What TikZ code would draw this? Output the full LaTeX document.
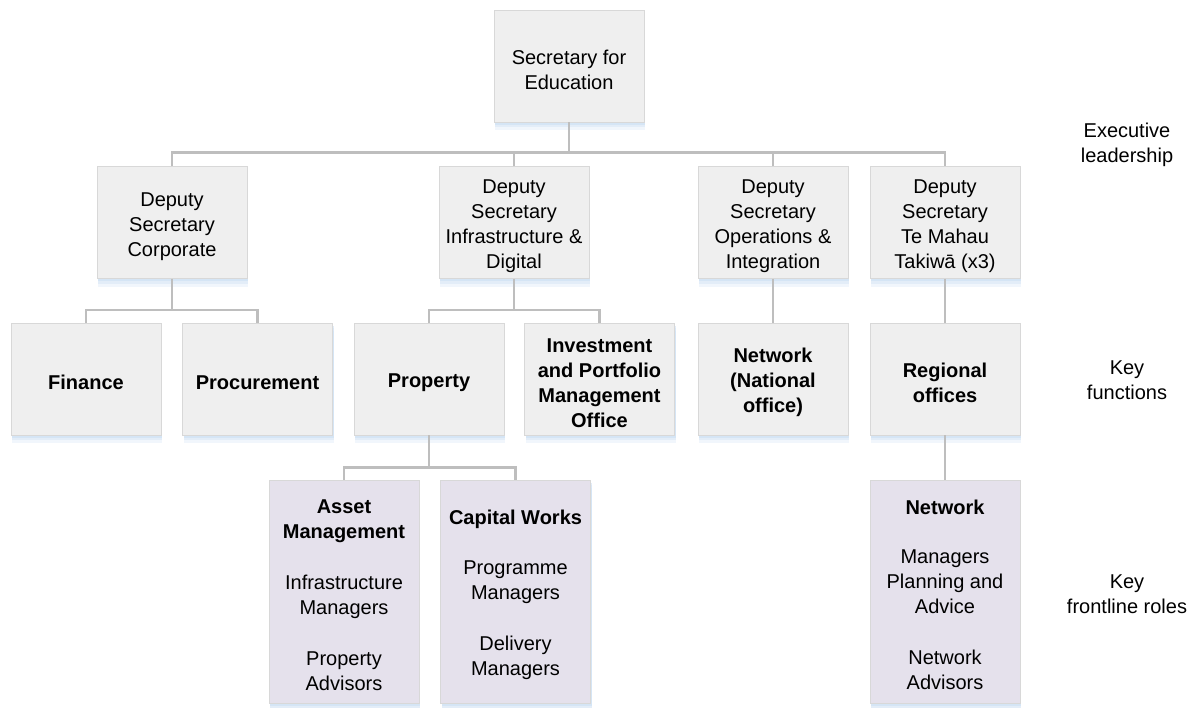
\documentclass[tikz,border=0pt]{standalone}
\usepackage{fontspec}
\setmainfont{Liberation Sans}
\usetikzlibrary{shadows}
\definecolor{boxgray}{RGB}{239,239,239}
\definecolor{boxedge}{RGB}{216,216,216}
\definecolor{rolefill}{RGB}{229,225,236}
\definecolor{linkgray}{RGB}{190,190,190}
\definecolor{haze}{RGB}{200,220,242}
\newcommand\lift{\rule{0pt}{21.5pt}}
\tikzset{
  unit/.style={draw=boxedge, fill=boxgray, line width=.8pt, minimum width=150pt, minimum height=112pt,
    align=center, inner sep=2pt, font=\fontsize{20}{25}\selectfont,
    drop shadow={shadow xshift=1pt, shadow yshift=-8pt, fill=haze, opacity=.25},
    drop shadow={shadow xshift=1pt, shadow yshift=-5pt, fill=haze, opacity=.35},
    drop shadow={shadow xshift=1pt, shadow yshift=-2.5pt, fill=haze, opacity=.5}},
  role/.style={unit, fill=rolefill, minimum height=223pt},
  link/.style={draw=linkgray, line width=2.5pt},
  tier/.style={align=center, font=\fontsize{20}{25}\selectfont}
}
\begin{document}
\begin{tikzpicture}[x=1pt,y=-1pt]
\useasboundingbox (0,0) rectangle (1193,707);
\node[unit] (sec) at (569,66) {\lift Secretary for\\Education};
\node[unit] (corp) at (172,222.5) {\lift Deputy\\Secretary\\Corporate};
\node[unit] (infra) at (514,222.5) {\lift Deputy\\Secretary\\Infrastructure \&\\Digital};
\node[unit] (ops) at (773,222.5) {\lift Deputy\\Secretary\\Operations \&\\Integration};
\node[unit] (mahau) at (945,222.5) {\lift Deputy\\Secretary\\Te Mahau\\Takiwā (x3)};
\node[unit] (finance) at (86,379) {\lift\textbf{Finance}};
\node[unit] (procure) at (257.5,379) {\lift\textbf{Procurement}};
\node[unit] (property) at (429,379) {\lift\textbf{Property}};
\node[unit] (invest) at (599.5,379) {\lift\textbf{Investment}\\\textbf{and Portfolio}\\\textbf{Management}\\\textbf{Office}};
\node[unit] (natnet) at (773,379) {\lift\textbf{Network}\\\textbf{(National}\\\textbf{office)}};
\node[unit] (regional) at (945,379) {\lift\textbf{Regional}\\\textbf{offices}};
\node[role] (asset) at (344,591.5) {\lift\textbf{Asset}\\\textbf{Management}\\[26pt]Infrastructure\\Managers\\[26pt]Property\\Advisors};
\node[role] (capital) at (515.5,591.5) {\lift\textbf{Capital Works}\\[25pt]Programme\\Managers\\[26pt]Delivery\\Managers};
\node[role] (network) at (945,591.5) {\lift\textbf{Network}\\[24pt]Managers\\Planning and\\Advice\\[26pt]Network\\Advisors};
\node[tier] (exec) at (1127,145) {Executive\\leadership};
\node[tier] (keyfn) at (1127,380.5) {Key\\functions};
\node[tier] (keyrole) at (1127,594) {Key\\frontline roles};
\draw[link] (sec.south) -- ++(0,30) coordinate (b1);
\draw[link] (corp.north) |- (b1) -| (mahau.north);
\draw[link] (infra.north) -- (infra.north |- b1);
\draw[link] (ops.north) -- (ops.north |- b1);
\draw[link] (corp.south) -- ++(0,31) coordinate (b2);
\draw[link] (finance.north) |- (b2) -| (procure.north);
\draw[link] (infra.south) -- ++(0,31) coordinate (b3);
\draw[link] (property.north) |- (b3) -| (invest.north);
\draw[link] (ops) -- (natnet);
\draw[link] (mahau) -- (regional);
\draw[link] (property.south) -- ++(0,32) coordinate (b4);
\draw[link] (asset.north) |- (b4) -| (capital.north);
\draw[link] (regional) -- (network);
\end{tikzpicture}
\end{document}
